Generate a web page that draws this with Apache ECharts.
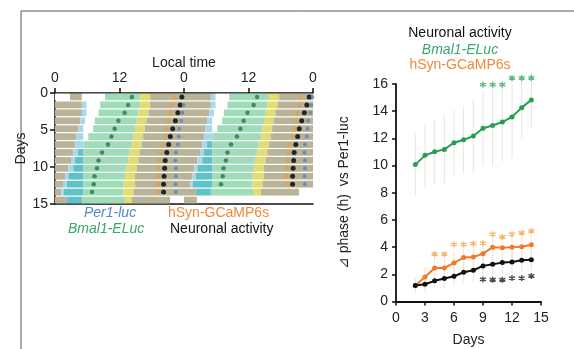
<!DOCTYPE html>
<html>
<head>
<meta charset="utf-8">
<script src="https://cdn.jsdelivr.net/npm/echarts@6/dist/echarts.min.js"></script>
<style>
  html, body { margin: 0; padding: 0; background: #fff; }
  #chart { width: 574px; height: 349px; }
</style>
</head>
<body>
<div id="chart"></div>
<script>
// ---- left panel: double-plotted phase map, one row per day (hours 0-24) ----
const mapDays = [0, 1, 2, 3, 4, 5, 6, 7, 8, 9, 10, 11, 12, 13, 14];
const dataStart   = [2.8, 0, 0, 0, 0, 0, 0, 0, 0, 0, 0, 0, 0, 0, 0];
const blueStart   = [5.0, 5.0, 5.0, 4.7, 4.3, 4.0, 3.7, 3.4, 3.1, 2.5, 1.9, 1.6, 1.2, 2.2, 2.4];
const tealStart   = [5.0, 5.9, 5.9, 5.6, 5.3, 5.3, 5.3, 4.3, 3.7, 3.4, 2.5, 2.2, 1.6, 2.2, 2.4];
const whiteStart  = [5.0, 5.9, 5.9, 5.6, 5.3, 5.3, 5.3, 5.3, 5.3, 5.3, 5.3, 5.3, 5.3, 5.0, 2.4];
const mintStart   = [9.3, 8.4, 8.1, 7.4, 7.1, 6.2, 5.3, 5.3, 5.3, 5.3, 5.3, 5.3, 5.3, 5.0, 2.4];
const yellowStart = [15.8, 15.8, 15.5, 15.2, 14.9, 14.6, 14.3, 13.9, 13.6, 13.2, 13.0, 12.8, 12.7, 13.0, 2.4];
const tanStart    = [17.7, 17.7, 17.4, 17.0, 16.7, 16.4, 16.1, 15.8, 15.5, 15.2, 14.9, 14.9, 14.6, 14.3, 2.4];
const dataEnd     = [24, 24, 24, 24, 24, 24, 24, 24, 24, 24, 24, 24, 24, 21.4, 2.4];

// peak times (h) per day
const bmal1Peak  = [14.3, 13.6, 12.95, 11.8, 11.1, 10.5, 9.85, 8.75, 8.1, 7.8, 7.35, 7.2, 6.9];
const gcampPeak  = [22.1, 21.75, 21.45, 21.1, 20.8, 20.4, 20.2, 19.6, 19.4, 19.3, 19.15, 19.15, 19.3];
const neuronPeak = [23.6, 23.3, 22.85, 22.4, 21.9, 21.45, 21.15, 20.8, 20.5, 20.4, 20.3, 20.2, 20.2];
const per1Peak   = [null, 23.9, 23.7, 23.5, 23.1, 23.0, 22.85, 22.5, 22.4, 22.5, 22.5, 22.4, 22.5];

const localTimeTicks = ['0', '12', '0', '12', '0'];

// ---- right panel: phase difference vs Per1-luc ----
const daysX       = [2, 3, 4, 5, 6, 7, 8, 9, 10, 11, 12, 13, 14];
const bmal1Delta  = [10.07, 10.75, 11.02, 11.19, 11.68, 11.9, 12.17, 12.75, 12.95, 13.2, 13.58, 14.26, 14.83];
const gcampDelta  = [1.18, 1.81, 2.47, 2.47, 2.84, 3.23, 3.27, 3.52, 4.0, 3.96, 4.0, 4.03, 4.18];
const neuronDelta = [1.18, 1.27, 1.52, 1.69, 1.86, 2.15, 2.3, 2.62, 2.74, 2.86, 2.91, 3.03, 3.08];
const bmal1Err    = [2.3, 2.3, 2.4, 2.5, 2.4, 2.5, 2.7, 2.8, 3.0, 2.9, 3.0, 2.3, 2.0];
const gcampErr    = [0.6, 0.7, 0.8, 0.8, 0.9, 0.9, 0.9, 0.9, 0.9, 0.9, 0.9, 0.9, 0.9];
const neuronErr   = [0.5, 0.6, 0.6, 0.7, 0.7, 0.7, 0.8, 0.8, 0.8, 0.8, 0.8, 0.8, 0.8];

const bmal1StarDays  = [9, 10, 11, 12, 13, 14];
const bmal1StarY     = [15.95, 15.95, 15.95, 16.45, 16.45, 16.45];
const gcampStarDays  = [4, 5, 6, 7, 8, 9, 10, 11, 12, 13, 14];
const gcampStarY     = [3.5, 3.5, 4.2, 4.2, 4.25, 4.3, 4.95, 4.75, 4.95, 5.05, 5.2];
const neuronStarDays = [9, 10, 11, 12, 13, 14];
const neuronStarY    = [1.62, 1.6, 1.6, 1.72, 1.72, 1.88];

const FONT = 'Arial, "Liberation Sans", sans-serif';
const segColors = ['#ffffff', '#b9b397', '#a9d8ee', '#5fc2c9', '#9fdcb8', '#e3dc6e'];
const rowH = 15 / 14;

// segments of one day: [from, to, colour index]
function daySegments(d) {
  return [
    [0, dataStart[d], 0],
    [dataStart[d], blueStart[d], 1],
    [blueStart[d], tealStart[d], 2],
    [tealStart[d], whiteStart[d], 3],
    [whiteStart[d], mintStart[d], 0],
    [mintStart[d], yellowStart[d], 4],
    [yellowStart[d], tanStart[d], 5],
    [tanStart[d], dataEnd[d], 1]
  ].filter(s => s[1] - s[0] > 0.01);
}

let segData = [];
mapDays.forEach(d => {
  daySegments(d).forEach(s => {
    if (d < 14) segData.push([s[0], s[1], d, s[2]]);          // left half
    if (d > 0) segData.push([s[0] + 24, s[1] + 24, d - 1, s[2]]); // right half
  });
});

function peakDots(arr) {
  let out = [];
  arr.forEach((h, d) => {
    if (h == null) return;
    out.push([h, (d + 0.5) * rowH]);
    if (d > 0) out.push([h + 24, (d - 0.5) * rowH]);
  });
  return out;
}

function renderSeg(params, api) {
  let p0 = api.coord([api.value(0), api.value(2) * rowH]);
  let p1 = api.coord([api.value(1), (api.value(2) + 1) * rowH]);
  return {
    type: 'rect',
    shape: { x: p0[0], y: p0[1] + 0.6, width: p1[0] - p0[0], height: p1[1] - p0[1] - 1.2 },
    style: { fill: segColors[api.value(3)] }
  };
}

function renderErr(params, api) {
  let a = api.coord([api.value(0), api.value(1)]);
  let b = api.coord([api.value(0), api.value(2)]);
  return {
    type: 'line',
    shape: { x1: a[0], y1: a[1], x2: b[0], y2: b[1] },
    style: { stroke: api.visual('color'), lineWidth: 1 }
  };
}

function errData(vals, errs) {
  return daysX.map((x, i) => [x, vals[i] - errs[i], vals[i] + errs[i]]);
}

const asterisk = 'path://M5,0L5,10M0.67,2.5L9.33,7.5M0.67,7.5L9.33,2.5';

function starSeries(days, ys, color) {
  return {
    type: 'scatter', xAxisIndex: 2, yAxisIndex: 1, clip: false,
    symbol: asterisk, symbolSize: 6,
    itemStyle: { color: color, borderColor: color, borderWidth: 1.4 },
    data: days.map((x, i) => [x, ys[i]]), z: 5
  };
}

function lineSeries(vals, color) {
  return {
    type: 'line', xAxisIndex: 2, yAxisIndex: 1,
    symbol: 'circle', symbolSize: 5, showSymbol: true,
    lineStyle: { color: color, width: 2 },
    itemStyle: { color: color },
    data: daysX.map((x, i) => [x, vals[i]]), z: 4
  };
}

const axisLabelStyle = { color: '#222', fontSize: 14, fontFamily: FONT };
const nameStyle = { color: '#222', fontSize: 14, fontFamily: FONT };

let chart = echarts.init(document.getElementById('chart'));
chart.setOption({
  animation: false,
  textStyle: { fontFamily: FONT },
  grid: [
    { left: 55, right: 261, top: 93, bottom: 145, outerBoundsMode: 'none' },
    { left: 396, right: 33, top: 84, bottom: 47.5, outerBoundsMode: 'none' }
  ],
  xAxis: [
    {
      gridIndex: 0, type: 'value', min: 0, max: 48, interval: 12, position: 'top',
      name: 'Local time', nameLocation: 'middle', nameGap: 23, nameTextStyle: nameStyle,
      axisLine: { lineStyle: { color: '#111', width: 1.5 } },
      axisTick: { length: 5, lineStyle: { color: '#111', width: 1.5 } },
      axisLabel: Object.assign({ margin: 8, formatter: v => localTimeTicks[v / 12] }, axisLabelStyle),
      splitLine: { show: false }
    },
    {
      gridIndex: 0, type: 'value', min: 0, max: 48, position: 'bottom',
      axisLine: { lineStyle: { color: '#111', width: 1.5 } },
      axisTick: { show: false }, axisLabel: { show: false }, splitLine: { show: false }
    },
    {
      gridIndex: 1, type: 'value', min: 0, max: 15, interval: 3,
      name: 'Days', nameLocation: 'middle', nameGap: 32, nameTextStyle: nameStyle,
      axisLine: { onZero: false, lineStyle: { color: '#111', width: 1.8 } },
      axisTick: { length: 4, lineStyle: { color: '#111', width: 1.5 } },
      axisLabel: Object.assign({ margin: 10 }, axisLabelStyle),
      splitLine: { show: false }
    }
  ],
  yAxis: [
    {
      gridIndex: 0, type: 'value', min: 0, max: 15, interval: 5, inverse: true,
      name: 'Days', nameLocation: 'middle', nameGap: 24, nameTextStyle: nameStyle,
      axisLine: { lineStyle: { color: '#111', width: 1.5 } },
      axisTick: { length: 5, lineStyle: { color: '#111', width: 1.5 } },
      axisLabel: Object.assign({ margin: 7 }, axisLabelStyle),
      splitLine: { show: false }
    },
    {
      gridIndex: 1, type: 'value', min: 0, max: 16, interval: 2,
      name: '⊿ phase (h)  vs Per1-luc', nameLocation: 'middle', nameGap: 45, nameTextStyle: nameStyle,
      axisLine: { show: true, lineStyle: { color: '#111', width: 1.8 } },
      axisTick: { show: true, length: 4, lineStyle: { color: '#111', width: 1.5 } },
      axisLabel: Object.assign({ margin: 8 }, axisLabelStyle),
      splitLine: { show: false }
    }
  ],
  series: [
    { type: 'custom', xAxisIndex: 0, yAxisIndex: 0, renderItem: renderSeg, data: segData, clip: true, z: 1 },
    { type: 'scatter', xAxisIndex: 0, yAxisIndex: 0, symbolSize: 4.5, itemStyle: { color: '#1f7d40' }, data: peakDots(bmal1Peak), z: 3 },
    { type: 'scatter', xAxisIndex: 0, yAxisIndex: 0, symbolSize: 4, itemStyle: { color: '#f39a3a' }, data: peakDots(gcampPeak), z: 3 },
    { type: 'scatter', xAxisIndex: 0, yAxisIndex: 0, symbolSize: 5, itemStyle: { color: '#000' }, data: peakDots(neuronPeak), z: 3 },
    { type: 'scatter', xAxisIndex: 0, yAxisIndex: 0, symbolSize: 4, itemStyle: { color: '#5b7fc4' }, data: peakDots(per1Peak), z: 3 },

    { type: 'custom', xAxisIndex: 2, yAxisIndex: 1, renderItem: renderErr, itemStyle: { color: '#e6e6e0' }, data: errData(bmal1Delta, bmal1Err), z: 2 },
    { type: 'custom', xAxisIndex: 2, yAxisIndex: 1, renderItem: renderErr, itemStyle: { color: '#f8e4d4' }, data: errData(gcampDelta, gcampErr), z: 2 },
    { type: 'custom', xAxisIndex: 2, yAxisIndex: 1, renderItem: renderErr, itemStyle: { color: '#e4e4e4' }, data: errData(neuronDelta, neuronErr), z: 2 },
    lineSeries(bmal1Delta, '#2a9d55'),
    lineSeries(gcampDelta, '#ee7a2a'),
    lineSeries(neuronDelta, '#111111'),
    starSeries(bmal1StarDays, bmal1StarY, '#3aa868'),
    starSeries(gcampStarDays, gcampStarY, '#f5a648'),
    starSeries(neuronStarDays, neuronStarY, '#222222')
  ],
  graphic: [
    { type: 'polyline', shape: { points: [[21, 349], [21, 11], [574, 11]] }, style: { stroke: '#555', lineWidth: 1, fill: null } },
    { type: 'text', left: 84, top: 206, style: { text: 'Per1-luc', fill: '#4f86c6', font: 'italic 14px ' + FONT } },
    { type: 'text', left: 68, top: 222, style: { text: 'Bmal1-ELuc', fill: '#3aa868', font: 'italic 14px ' + FONT } },
    { type: 'text', left: 168, top: 206, style: { text: 'hSyn-GCaMP6s', fill: '#f08a3a', font: '14px ' + FONT } },
    { type: 'text', left: 170, top: 222, style: { text: 'Neuronal activity', fill: '#111', font: '14px ' + FONT } },
    { type: 'text', x: 460, y: 33, style: { text: 'Neuronal activity', fill: '#111', font: '14px ' + FONT, align: 'center', verticalAlign: 'middle' } },
    { type: 'text', x: 460, y: 50, style: { text: 'Bmal1-ELuc', fill: '#3aa868', font: 'italic 14px ' + FONT, align: 'center', verticalAlign: 'middle' } },
    { type: 'text', x: 460, y: 65, style: { text: 'hSyn-GCaMP6s', fill: '#f08a3a', font: '14px ' + FONT, align: 'center', verticalAlign: 'middle' } }
  ]
});
</script>
</body>
</html>
